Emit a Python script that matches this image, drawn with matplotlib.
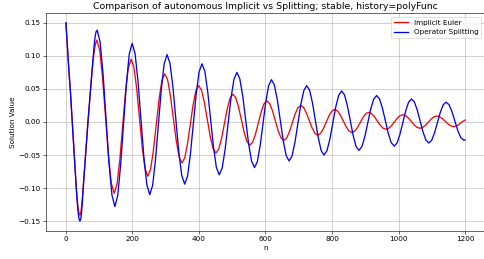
import matplotlib
matplotlib.use("Agg")
import matplotlib.pyplot as plt

# values: sample index n and solution value
implicit_n = [
    0, 3, 6, 9.5, 13, 16, 19, 22, 25, 28, 31, 33.5, 36, 39, 42, 44.5, 47, 49.5, 52,
    55.5, 59, 62.5, 66, 69.5, 73, 76.5, 80, 83.5, 87, 90, 93,
    101.7, 110.3, 119, 127.7, 136.3, 145,
    153.5, 162, 170.5, 179, 187.5, 196,
    204.3, 212.7, 221, 229.3, 237.7, 246,
    254.5, 263, 271.5, 280, 288.5, 297,
    305.7, 314.3, 323, 331.7, 340.3, 349,
    357.3, 365.7, 374, 382.3, 390.7, 399,
    407.7, 416.3, 425, 433.7, 442.3, 451,
    459.5, 468, 476.5, 485, 493.5, 502,
    510.5, 519, 527.5, 536, 544.5, 553,
    561.5, 570, 578.5, 587, 595.5, 604,
    612.5, 621, 629.5, 638, 646.5, 655,
    663.5, 672, 680.5, 689, 697.5, 706,
    714.5, 723, 731.5, 740, 748.5, 757,
    765.5, 774, 782.5, 791, 799.5, 808,
    816.7, 825.3, 834, 842.7, 851.3, 860,
    868.3, 876.7, 885, 893.3, 901.7, 910,
    918.7, 927.3, 936, 944.7, 953.3, 962,
    970.5, 979, 987.5, 996, 1004.5, 1013,
    1021.5, 1030, 1038.5, 1047, 1055.5, 1064,
    1072.5, 1081, 1089.5, 1098, 1106.5, 1115,
    1123.5, 1132, 1140.5, 1149, 1157.5, 1166,
    1174.5, 1183, 1191.5, 1200]
implicit_val = [
    0.150, 0.125, 0.100, 0.073, 0.050, 0.025, 0.000, -0.025, -0.050, -0.074, -0.098,
    -0.115, -0.128, -0.137, -0.141, -0.138, -0.128, -0.114, -0.097,
    -0.074, -0.050, -0.027, -0.003, 0.020, 0.043, 0.065, 0.085, 0.101, 0.113, 0.120, 0.124,
    0.1085, 0.066, 0.008, -0.050, -0.0925, -0.108,
    -0.0944, -0.0573, -0.0065, 0.0443, 0.0814, 0.095,
    0.0831, 0.0508, 0.0065, -0.0378, -0.0701, -0.082,
    -0.0716, -0.0433, -0.0045, 0.0343, 0.0626, 0.073,
    0.064, 0.0393, 0.0055, -0.0283, -0.053, -0.062,
    -0.0542, -0.0328, -0.0035, 0.0258, 0.0472, 0.055,
    0.0482, 0.0295, 0.004, -0.0215, -0.0402, -0.047,
    -0.041, -0.0248, -0.0025, 0.0198, 0.036, 0.042,
    0.0368, 0.0228, 0.0035, -0.0158, -0.0298, -0.035,
    -0.0305, -0.0183, -0.0015, 0.0153, 0.0275, 0.032,
    0.028, 0.017, 0.002, -0.013, -0.024, -0.028,
    -0.0244, -0.0148, -0.0015, 0.0118, 0.0214, 0.025,
    0.022, 0.0138, 0.0025, -0.0088, -0.017, -0.020,
    -0.0174, -0.0103, -0.0005, 0.0093, 0.0164, 0.019,
    0.0167, 0.0103, 0.0015, -0.0073, -0.0137, -0.016,
    -0.0139, -0.0084, -0.0007, 0.007, 0.0125, 0.0146,
    0.0129, 0.0082, 0.0018, -0.0046, -0.0093, -0.011,
    -0.0095, -0.0055, 0.0, 0.0055, 0.0095, 0.011,
    0.0096, 0.0059, 0.0008, -0.0044, -0.0081, -0.0095,
    -0.0083, -0.0049, -0.0003, 0.0044, 0.0078, 0.009,
    0.0079, 0.005, 0.001, -0.003, -0.0059, -0.007,
    -0.006, -0.0034, 0.0003, 0.003]

splitting_n = [
    0, 3, 6, 9.5, 13, 16, 19, 22, 25, 28, 31, 34, 36.5, 39, 42, 44.5, 47, 49.5, 52,
    55.5, 59, 62.5, 66, 70, 74, 78, 82, 85, 88, 91, 94,
    102.8, 111.7, 120.5, 129.3, 138.2, 147,
    155.7, 164.3, 173, 181.7, 190.3, 199,
    207.8, 216.7, 225.5, 234.3, 243.2, 252,
    260.7, 269.3, 278, 286.7, 295.3, 304,
    312.8, 321.7, 330.5, 339.3, 348.2, 357,
    365.7, 374.3, 383, 391.7, 400.3, 409,
    417.7, 426.3, 435, 443.7, 452.3, 461,
    469.8, 478.7, 487.5, 496.3, 505.2, 514,
    522.8, 531.7, 540.5, 549.3, 558.2, 567,
    575.5, 584, 592.5, 601, 609.5, 618,
    626.8, 635.7, 644.5, 653.3, 662.2, 671,
    679.8, 688.7, 697.5, 706.3, 715.2, 724,
    732.7, 741.3, 750, 758.7, 767.3, 776,
    784.8, 793.7, 802.5, 811.3, 820.2, 829,
    837.7, 846.3, 855, 863.7, 872.3, 881,
    889.8, 898.7, 907.5, 916.3, 925.2, 934,
    942.8, 951.7, 960.5, 969.3, 978.2, 987,
    995.7, 1004.3, 1013, 1021.7, 1030.3, 1039,
    1047.7, 1056.3, 1065, 1073.7, 1082.3, 1091,
    1099.7, 1108.3, 1117, 1125.7, 1134.3, 1143,
    1151.8, 1160.7, 1169.5, 1178.3, 1187.2, 1196, 1200]
splitting_val = [
    0.150, 0.125, 0.100, 0.073, 0.050, 0.025, 0.000, -0.025, -0.050, -0.075, -0.100,
    -0.122, -0.136, -0.146, -0.150, -0.147, -0.137, -0.121, -0.100,
    -0.075, -0.050, -0.025, 0.000, 0.025, 0.050, 0.075, 0.100, 0.117, 0.130, 0.137, 0.139,
    0.1211, 0.0723, 0.0055, -0.0613, -0.1101, -0.128,
    -0.1115, -0.0663, -0.0045, 0.0573, 0.1025, 0.119,
    0.1037, 0.0618, 0.0045, -0.0528, -0.0947, -0.110,
    -0.0958, -0.057, -0.004, 0.049, 0.0878, 0.102,
    0.0889, 0.053, 0.004, -0.045, -0.0809, -0.094,
    -0.0818, -0.0485, -0.003, 0.0425, 0.0758, 0.088,
    0.0767, 0.046, 0.004, -0.038, -0.0687, -0.080,
    -0.0696, -0.0413, -0.0025, 0.0363, 0.0646, 0.075,
    0.0654, 0.039, 0.003, -0.033, -0.0594, -0.069,
    -0.0601, -0.0358, -0.0025, 0.0308, 0.0551, 0.064,
    0.0558, 0.0333, 0.0025, -0.0283, -0.0508, -0.059,
    -0.0514, -0.0305, -0.002, 0.0265, 0.0474, 0.055,
    0.048, 0.0288, 0.0025, -0.0238, -0.043, -0.050,
    -0.0435, -0.0258, -0.0015, 0.0228, 0.0405, 0.047,
    0.041, 0.0245, 0.002, -0.0205, -0.037, -0.043,
    -0.0374, -0.0223, -0.0015, 0.0193, 0.0344, 0.040,
    0.0349, 0.0209, 0.0018, -0.0174, -0.0314, -0.0365,
    -0.0318, -0.0187, -0.0009, 0.017, 0.030, 0.0348,
    0.0303, 0.0182, 0.0015, -0.0152, -0.0273, -0.0318,
    -0.0277, -0.0164, -0.0009, 0.0146, 0.0259, 0.030,
    0.0262, 0.0157, 0.0013, -0.0131, -0.0236, -0.0275, -0.0270]

fig = plt.figure(figsize=(9.308, 4.981), dpi=52)
ax = fig.add_axes([0.095, 0.108, 0.907, 0.842])
ax.plot(implicit_n, implicit_val, color="r", linewidth=1.8, label="Implicit Euler")
ax.plot(splitting_n, splitting_val, color="b", linewidth=1.8, label="Operator Splitting")
ax.set_title("Comparison of autonomous Implicit vs Splitting; stable, history=polyFunc",
             fontsize=13)
ax.set_xlabel("n")
ax.set_ylabel("Solution Value")
ax.grid(True)
ax.legend(loc="upper right")
fig.savefig("out.png", dpi=52)
